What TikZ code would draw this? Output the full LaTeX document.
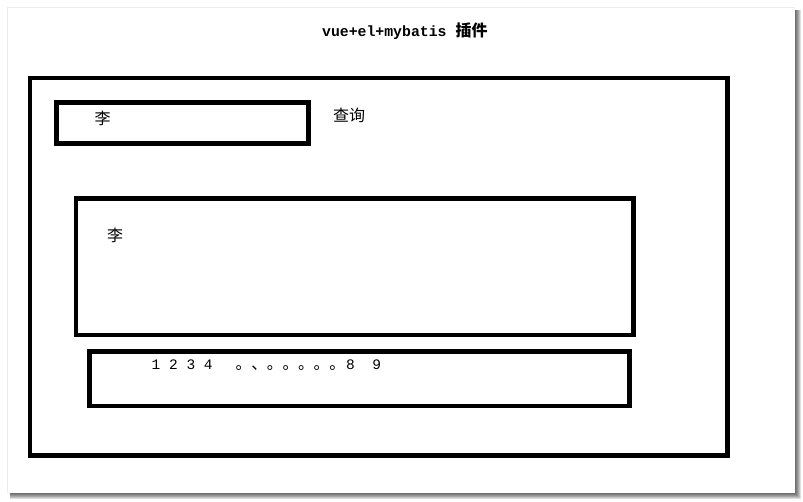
\documentclass[tikz,border=0pt]{standalone}
\usepackage{fontspec}
\setmonofont{Liberation Mono}
\newfontfamily\cjk{Noto Sans CJK SC}
\newcommand\fwcell[1]{\makebox[15.6pt][l]{#1}}
\begin{document}
\begin{tikzpicture}[x=1pt,y=-1pt,
  box/.style={draw=black, line width=4.5pt, inner sep=0pt, fill=none},
  lbl/.style={inner sep=0pt, anchor=base},
  cj/.style={font=\cjk\fontsize{16pt}{18pt}\selectfont},
  mono/.style={font=\ttfamily\fontsize{14.5pt}{17pt}\selectfont}]
\useasboundingbox (0,0) rectangle (803,501);
% page with drop shadow
\foreach \i in {1,...,6} \fill[black,opacity=0.13] (10,10) rectangle (795+\i,493+\i);
\fill[white] (7,7) rectangle (795,493);
\draw[black!8, line width=0.8pt] (7,493) -- (7,7) -- (795,7);
% title
\node[lbl, anchor=base west] (title) at (322,36)
  {\fontsize{14.8pt}{17pt}\selectfont{\ttfamily\bfseries vue+el+mybatis}\hspace{9pt}{\cjk\bfseries\fontsize{16pt}{18pt}\selectfont 插件}};
% boxes
\node[box, minimum width=697.5pt, minimum height=377.5pt] (outer) at (378.75,266.75) {};
\node[box, minimum width=252pt, minimum height=41pt] (search) at (182.5,123) {};
\node[box, minimum width=557.5pt, minimum height=136.5pt] (result) at (354.75,266.75) {};
\node[box, minimum width=540pt, minimum height=54.5pt] (pager) at (359.5,378.75) {};
% labels
\node[lbl, cj] (q1) at (102.5,124) {李};
\node[lbl, cj] (btn) at (349,121) {查询};
\node[lbl, cj] (r1) at (115,241.5) {李};
\node[lbl, mono, anchor=base west] (pages) at (151.5,369) {1 2 3 4};
\node[lbl, cj, anchor=base west] (dots) at (235.5,369)
  {\fwcell{。}\fwcell{、}\fwcell{。}\fwcell{。}\fwcell{。}\fwcell{。}\fwcell{。}};
\node[lbl, mono, anchor=base west] (pages2) at (346,369) {8\ \ 9};
\end{tikzpicture}
\end{document}
